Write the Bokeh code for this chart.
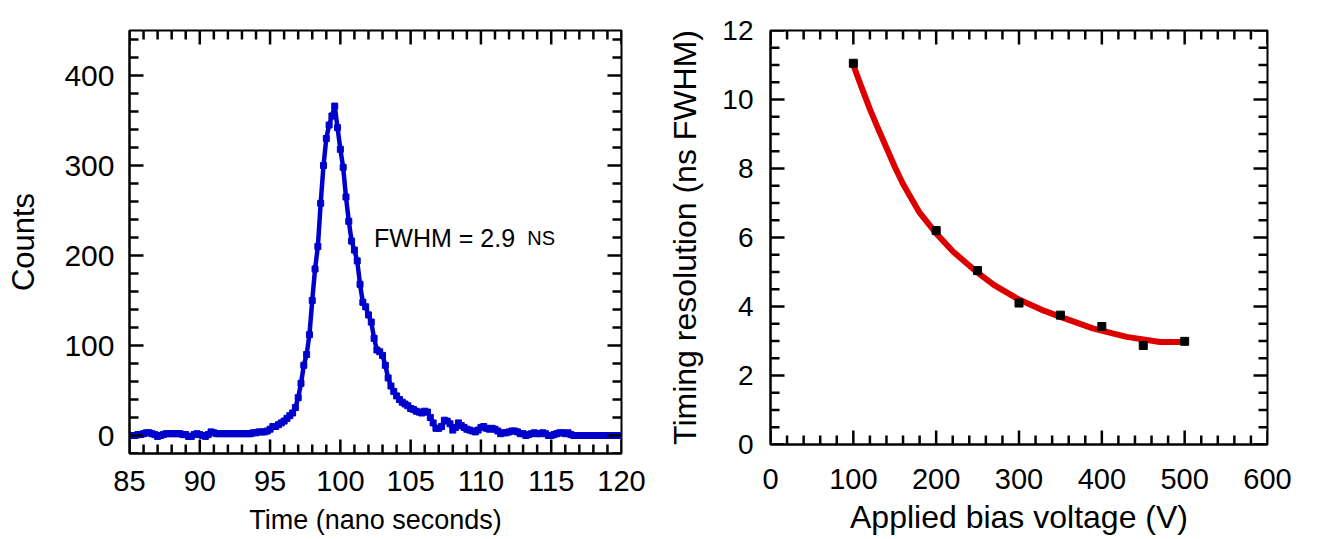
import math
from bokeh.plotting import figure
from bokeh.layouts import row
from bokeh.models import SingleIntervalTicker, Range1d
from bokeh.core.properties import value
from bokeh.embed import file_html
from bokeh.resources import INLINE

FONT = "Liberation Sans"

# ---------------- data: left panel (timing spectrum) ----------------
time_start = 85.0
time_step = 0.2
counts = [
    0, 0, 0, 1, 1, 2, 3, 3, 2, 1,
    -1, 0, 1, 2, 2, 2, 2, 2, 2, 1,
    1, -1, -1, 1, 2, 1, 0, -1, 1, 4,
    3, 2, 2, 2, 2, 2, 2, 2, 2, 2,
    2, 2, 2, 2, 3, 3, 4, 4, 4, 5,
    7, 10, 10, 12, 14, 16, 19, 22, 25, 31,
    42, 58, 78, 90, 112, 150, 185, 210, 258, 300,
    330, 345, 355, 366, 342, 318, 298, 265, 238, 216,
    206, 194, 168, 148, 143, 134, 126, 108, 95, 93,
    89, 78, 64, 55, 49, 44, 40, 37, 35, 33,
    30, 29, 27, 26, 25, 27, 26, 20, 14, 8,
    8, 10, 17, 16, 13, 6, 9, 14, 11, 9,
    7, 6, 5, 4, 6, 9, 10, 8, 7, 8,
    7, 5, 2, 3, 3, 4, 5, 5, 4, 2,
    2, 0, 1, 2, 3, 2, 2, 3, 2, 0,
    0, 1, 2, 3, 3, 2, 3, 1, 0, 0,
    0, 0, 0, 0, 0, 0, 0, 0, 0, 0,
    0, 0, 0, 0, 0, 0,
]
time_ns = [round(time_start + time_step * i, 1) for i in range(len(counts))]

fwhm_text = "FWHM = 2.9"
fwhm_unit = "NS"
fwhm_pos = (102.4, 219)
fwhm_unit_pos = (113.3, 219)

left_x_range = (85, 120)
left_y_range = (-20, 450)
left_x_major, left_x_minor = 5, 1
left_y_major, left_y_minor = 100, 20

# ---------------- data: right panel (resolution vs bias) ----------------
bias_v = [100, 200, 250, 300, 350, 400, 450, 500]
resolution_ns = [11.05, 6.20, 5.04, 4.10, 3.75, 3.42, 2.87, 2.99]

fit_v = [100, 110, 120, 130, 140, 150, 160, 180, 200, 220, 250, 270, 300, 330, 350, 390, 430, 470, 500]
fit_ns = [11.0, 10.35, 9.72, 9.15, 8.6, 8.05, 7.55, 6.72, 6.12, 5.6, 4.98, 4.62, 4.2, 3.88, 3.7, 3.36, 3.12, 2.97, 2.97]

right_x_range = (0, 600)
right_y_range = (0, 12)
right_x_major, right_x_minor = 100, 20
right_y_major, right_y_minor = 2, 0.5

MAJOR_LEN = 14   # inward tick length (px)
MINOR_LEN = 9


def tick_values(lo, hi, step):
    n0 = math.ceil(lo / step - 1e-9)
    n1 = math.floor(hi / step + 1e-9)
    return [round(k * step, 6) for k in range(n0, n1 + 1)]


def draw_inward_ticks(p, xr, yr, xmaj, xmin, ymaj, ymin, fw, fh):
    dx = (xr[1] - xr[0]) / fw
    dy = (yr[1] - yr[0]) / fh
    xm = tick_values(xr[0], xr[1], xmaj)
    xn = [v for v in tick_values(xr[0], xr[1], xmin) if v not in xm]
    ym = tick_values(yr[0], yr[1], ymaj)
    yn = [v for v in tick_values(yr[0], yr[1], ymin) if v not in ym]
    x0s, x1s, y0s, y1s = [], [], [], []
    for ticks, ln in ((xm, MAJOR_LEN), (xn, MINOR_LEN)):
        for t in ticks:
            x0s += [t, t]
            x1s += [t, t]
            y0s += [yr[0], yr[1]]
            y1s += [yr[0] + ln * dy, yr[1] - ln * dy]
    for ticks, ln in ((ym, MAJOR_LEN), (yn, MINOR_LEN)):
        for t in ticks:
            y0s += [t, t]
            y1s += [t, t]
            x0s += [xr[0], xr[1]]
            x1s += [xr[0] + ln * dx, xr[1] - ln * dx]
    p.segment(x0=x0s, y0=y0s, x1=x1s, y1=y1s, line_color="black", line_width=2.5)


def style_axes(p, xstep, ystep, xtick_font, ytick_font, xlab_font, ylab_font,
               xstand, ystand, xlab_stand, ylab_stand):
    p.xgrid.visible = False
    p.ygrid.visible = False
    p.outline_line_color = "black"
    p.outline_line_width = 2
    p.xaxis[0].ticker = SingleIntervalTicker(interval=xstep, num_minor_ticks=0)
    p.yaxis[0].ticker = SingleIntervalTicker(interval=ystep, num_minor_ticks=0)
    for ax, tf, lf, st, ls in ((p.xaxis[0], xtick_font, xlab_font, xstand, xlab_stand),
                               (p.yaxis[0], ytick_font, ylab_font, ystand, ylab_stand)):
        ax.axis_line_width = 2
        ax.axis_line_color = "black"
        ax.major_tick_in = 0
        ax.major_tick_out = 0
        ax.minor_tick_in = 0
        ax.minor_tick_out = 0
        ax.major_label_text_font = FONT
        ax.major_label_text_font_size = tf
        ax.major_label_text_color = "black"
        ax.axis_label_text_font = FONT
        ax.axis_label_text_font_style = "normal"
        ax.axis_label_text_font_size = lf
        ax.axis_label_text_color = "black"
        ax.major_label_standoff = st
        ax.axis_label_standoff = ls


# ---------------- left figure ----------------
FW1, FH1 = 492, 423
p1 = figure(frame_width=FW1, frame_height=FH1, min_border_left=129, min_border_right=40,
            min_border_top=30, min_border_bottom=86,
            x_range=Range1d(*left_x_range), y_range=Range1d(*left_y_range),
            output_backend="svg", toolbar_location=None,
            x_axis_label="Time (nano seconds)", y_axis_label="Counts")
style_axes(p1, left_x_major, left_y_major, "29px", "30px", "27px", "31px", 17, 15, 11, 20)
p1.line(time_ns, counts, line_color="#0000CC", line_width=4.5)
p1.scatter(time_ns, counts, marker="square", size=6, fill_color="#0000CC", line_color="#0000CC")
p1.text(x=[fwhm_pos[0]], y=[fwhm_pos[1]], text=[fwhm_text], text_font=value(FONT),
        text_font_size="25px", text_baseline="alphabetic", text_align="left", text_color="black")
p1.text(x=[fwhm_unit_pos[0]], y=[fwhm_unit_pos[1]], text=[fwhm_unit], text_font=value(FONT),
        text_font_size="20px", text_baseline="alphabetic", text_align="left", text_color="black")
draw_inward_ticks(p1, left_x_range, left_y_range, left_x_major, left_x_minor,
                  left_y_major, left_y_minor, FW1, FH1)

# ---------------- right figure ----------------
FW2, FH2 = 497, 414
p2 = figure(frame_width=FW2, frame_height=FH2, min_border_left=109, min_border_right=55,
            min_border_top=30, min_border_bottom=95,
            x_range=Range1d(*right_x_range), y_range=Range1d(*right_y_range),
            output_backend="svg", toolbar_location=None,
            x_axis_label="Applied bias voltage (V)", y_axis_label="Timing resolution (ns FWHM)")
style_axes(p2, right_x_major, right_y_major, "29px", "28px", "32px", "32px", 24, 17, 7, 16)
p2.line(fit_v, fit_ns, line_color="#DD0000", line_width=6)
p2.scatter(bias_v, resolution_ns, marker="square", size=8, fill_color="black", line_color="black")
draw_inward_ticks(p2, right_x_range, right_y_range, right_x_major, right_x_minor,
                  right_y_major, right_y_minor, FW2, FH2)

layout = row(p1, p2)
open("out.html", "w").write(file_html(layout, INLINE))
